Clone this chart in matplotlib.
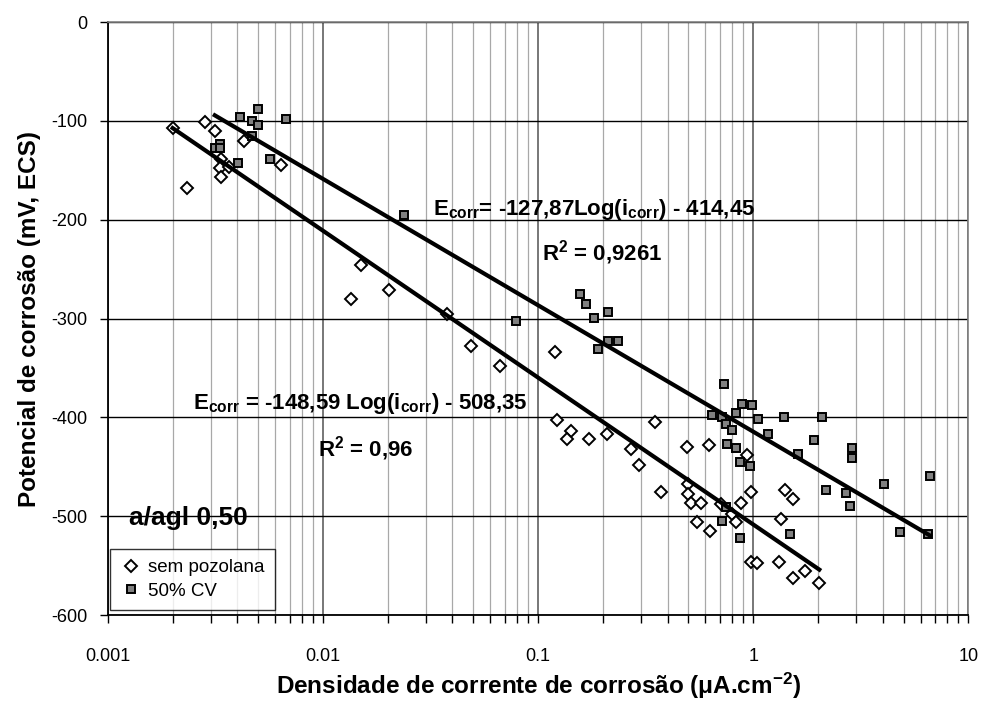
import numpy as np
import matplotlib
matplotlib.use("Agg")
import matplotlib.pyplot as plt
from matplotlib import font_manager
from matplotlib.ticker import LogLocator, NullFormatter

############################################################
# Data
############################################################

sem_i = [0.0020, 0.00232, 0.00282, 0.00315, 0.00336, 0.00332, 0.00366, 0.00334,
         0.0043, 0.00638, 0.01346, 0.01496, 0.0202, 0.0378, 0.0488, 0.0665,
         0.120, 0.122, 0.142, 0.136, 0.173, 0.209, 0.271, 0.296, 0.350, 0.372,
         0.490, 0.500, 0.500, 0.513, 0.548, 0.570, 0.622, 0.630, 0.707, 0.794,
         0.833, 0.880, 0.938, 0.975, 0.975, 1.047, 1.32, 1.34, 1.40, 1.53,
         1.53, 1.74, 2.03]
sem_e = [-107, -168, -101, -110, -139, -148, -147, -157,
         -120, -145, -280, -246, -271, -295, -328, -348,
         -334, -403, -414, -422, -422, -417, -432, -448, -405, -476,
         -430, -467, -478, -487, -506, -487, -428, -515, -488, -498,
         -506, -487, -438, -476, -546, -547, -546, -503, -474, -483,
         -563, -555, -568]

cv_i = [0.00332, 0.00314, 0.00332, 0.00403, 0.00411, 0.00467, 0.00467, 0.00497,
        0.00497, 0.00566, 0.00673, 0.0238, 0.0787, 0.1567, 0.167, 0.182,
        0.190, 0.211, 0.211, 0.235, 0.644, 0.714, 0.719, 0.731, 0.748,
        0.750, 0.759, 0.794, 0.833, 0.833, 0.867, 0.867, 0.889, 0.968,
        0.989, 1.055, 1.17, 1.39, 1.486, 1.616, 1.92, 2.09, 2.19, 2.71,
        2.83, 2.89, 2.89, 4.06, 4.83, 6.52, 6.65]
cv_e = [-123, -127, -127, -143, -96, -100, -115, -88,
        -104, -139, -98, -195, -303, -275, -285, -299,
        -331, -293, -323, -323, -398, -505, -400, -366, -407,
        -491, -427, -413, -396, -431, -445, -522, -386, -449,
        -388, -402, -417, -400, -518, -437, -423, -400, -473, -477,
        -490, -431, -441, -467, -516, -518, -459]

# trendline coefficients as printed on the chart: E = a*log10(i) + b
sem_fit = (-148.59, -508.35)
cv_fit = (-127.87, -414.45)

x_ticks = [0.001, 0.01, 0.1, 1, 10]
x_labels = ["0.001", "0.01", "0.1", "1", "10"]
y_ticks = [0, -100, -200, -300, -400, -500, -600]

############################################################
# Fonts
############################################################

names = {f.name for f in font_manager.fontManager.ttflist}
FONT = "Liberation Sans Narrow" if "Liberation Sans Narrow" in names else "Liberation Sans"

plt.rcParams["font.family"] = [FONT, "DejaVu Sans"]
plt.rcParams["axes.unicode_minus"] = False
plt.rcParams["mathtext.fontset"] = "custom"
plt.rcParams["mathtext.rm"] = FONT
plt.rcParams["mathtext.bf"] = FONT + ":bold"
plt.rcParams["mathtext.it"] = FONT + ":italic"

############################################################
# Figure
############################################################

fig = plt.figure(figsize=(9.81, 7.11), dpi=100)
ax = fig.add_axes([0.110, 0.135, 0.877, 0.834])

ax.set_xscale("log")
ax.set_xlim(0.001, 10)
ax.set_ylim(-600, 0)

ax.set_xticks(x_ticks)
ax.set_xticklabels(x_labels, fontsize=13)
ax.xaxis.set_minor_locator(LogLocator(base=10, subs=np.arange(2, 10)))
ax.xaxis.set_minor_formatter(NullFormatter())
ax.set_yticks(y_ticks)
ax.set_yticklabels([str(v) for v in y_ticks], fontsize=13)

ax.tick_params(axis="x", which="both", direction="out", length=6, width=1, pad=18)
ax.tick_params(axis="y", which="major", direction="out", length=6, width=1, pad=9)

ax.grid(axis="y", color="black", lw=1)
ax.grid(axis="x", which="major", color="#606060", lw=1.2)
ax.grid(axis="x", which="minor", color="#a8a8a8", lw=0.9)
ax.set_axisbelow(True)

for side in ["left", "bottom"]:
    ax.spines[side].set_color("black")
    ax.spines[side].set_linewidth(1.3)
for side in ["top", "right"]:
    ax.spines[side].set_color("#808080")
    ax.spines[side].set_linewidth(1.2)

############################################################
# Points and trendlines
############################################################

ax.plot(sem_i, sem_e, linestyle="none", marker="D", ms=6.5, mfc="white",
        mec="black", mew=1.4, label="sem pozolana", zorder=4)
ax.plot(cv_i, cv_e, linestyle="none", marker="s", ms=6, mfc="#808080",
        mec="black", mew=1.4, label="50% CV", zorder=4)

for xs, (a, b) in [(sem_i, sem_fit), (cv_i, cv_fit)]:
    xl = np.array([min(xs), max(xs)])
    ax.plot(xl, a * np.log10(xl) + b, color="black", lw=3, zorder=5)

############################################################
# Text
############################################################

ax.text(0.0325, -190, r"E$_{\mathbf{corr}}$= -127,87Log(i$_{\mathbf{corr}}$) - 414,45",
        fontsize=16, fontweight="bold", ha="left", va="center", zorder=6)
ax.text(0.1045, -233, r"R$^{\mathbf{2}}$ = 0,9261",
        fontsize=16, fontweight="bold", ha="left", va="center", zorder=6)
ax.text(0.00248, -386, r"E$_{\mathbf{corr}}$ = -148,59 Log(i$_{\mathbf{corr}}$) - 508,35",
        fontsize=16, fontweight="bold", ha="left", va="center", zorder=6)
ax.text(0.0095, -432, r"R$^{\mathbf{2}}$ = 0,96",
        fontsize=16, fontweight="bold", ha="left", va="center", zorder=6)
ax.text(0.00125, -502, "a/agl 0,50", fontsize=19, fontweight="bold",
        ha="left", va="center", zorder=6)

ax.set_ylabel("Potencial de corrosão (mV, ECS)", fontsize=17.5, fontweight="bold", labelpad=7)
ax.set_xlabel(r"Densidade de corrente de corrosão (μA.cm$^{\mathbf{-2}}$)",
              fontsize=17.5, fontweight="bold", labelpad=4)

leg = ax.legend(loc="lower left", bbox_to_anchor=(0.0, 0.005), fontsize=13.5,
                frameon=True, fancybox=False, shadow=False, borderaxespad=0.1,
                handletextpad=0.3, handlelength=1.2, borderpad=0.55, labelspacing=0.35)
leg.get_frame().set_edgecolor("black")
leg.get_frame().set_linewidth(1.0)
leg.set_zorder(7)

fig.savefig("out.png", dpi=100)
